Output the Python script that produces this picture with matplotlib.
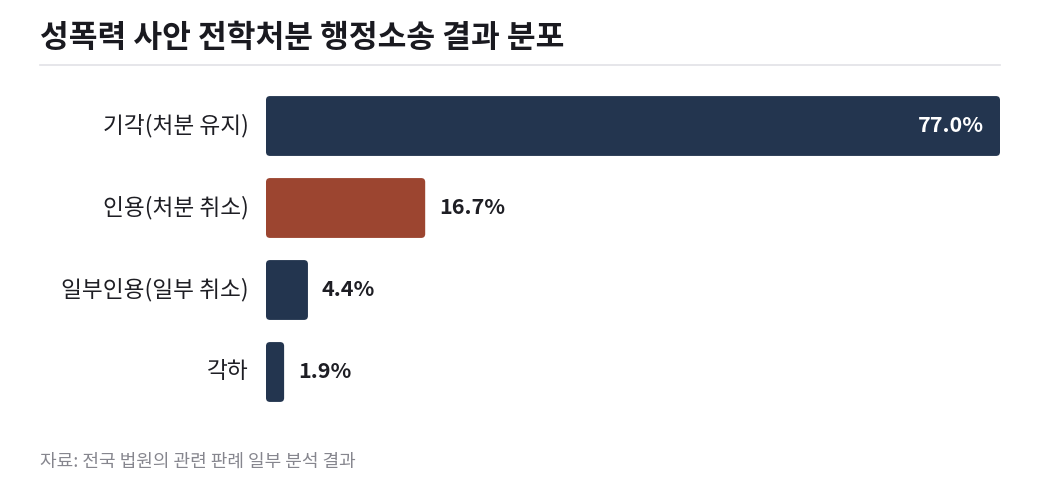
import matplotlib
matplotlib.use("Agg")
import matplotlib.pyplot as plt
from matplotlib.patches import FancyBboxPatch
from matplotlib.lines import Line2D

plt.rcParams['font.family'] = ['Noto Sans CJK KR', 'DejaVu Sans']

# data
categories = ["기각(처분 유지)", "인용(처분 취소)", "일부인용(일부 취소)", "각하"]
values = [77.0, 16.7, 4.4, 1.9]
bar_colors = ["#23354f", "#9c4530", "#23354f", "#23354f"]
title = "성폭력 사안 전학처분 행정소송 결과 분포"
source = "자료: 전국 법원의 관련 판례 일부 분석 결과"

fig = plt.figure(figsize=(10.4, 4.95), dpi=100)
W, H = 1040, 495
# axes area in pixels: x 266..1000, y 85..413 (from top)
ax = fig.add_axes([266 / W, 1 - 413 / H, (1000 - 266) / W, (413 - 85) / H])
ax.set_xlim(0, max(values))
ax.set_ylim(len(values) - 0.5, -0.5)
ax.axis("off")

px_x = max(values) / (1000 - 266)   # data units per pixel, x
px_y = len(values) / (413 - 85)     # data units per pixel, y
bar_h = 0.73
r = 4 * px_x

for i, (cat, v, c) in enumerate(zip(categories, values, bar_colors)):
    patch = FancyBboxPatch((0, i - bar_h / 2), v, bar_h,
                           boxstyle=f"round,pad=0,rounding_size={r}",
                           mutation_aspect=px_y / px_x,
                           facecolor=c, edgecolor="none")
    ax.add_patch(patch)
    ax.text(-17 * px_x, i, cat, ha="right", va="center", fontsize=16.3,
            color="#1e1e24", clip_on=False)
    label = f"{v:.1f}%"
    if v > 30:
        ax.text(v - 16 * px_x, i, label, ha="right", va="center", fontsize=15.5,
                color="white", fontweight="semibold")
    else:
        ax.text(v + 14 * px_x, i, label, ha="left", va="center", fontsize=15.5,
                color="#1e1e24", fontweight="semibold", clip_on=False)

fig.text(40 / W, 1 - 38 / H, title, ha="left", va="center", fontsize=22.5,
         fontweight="bold", color="#1a1a20")
fig.add_artist(Line2D([40 / W, 1000 / W], [1 - 65 / H, 1 - 65 / H],
                      color="#e2e2e6", linewidth=1.2))
fig.text(40 / W, 1 - 462 / H, source, ha="left", va="center", fontsize=13,
         color="#86868e")

fig.savefig("out.png", dpi=100, facecolor="white")
